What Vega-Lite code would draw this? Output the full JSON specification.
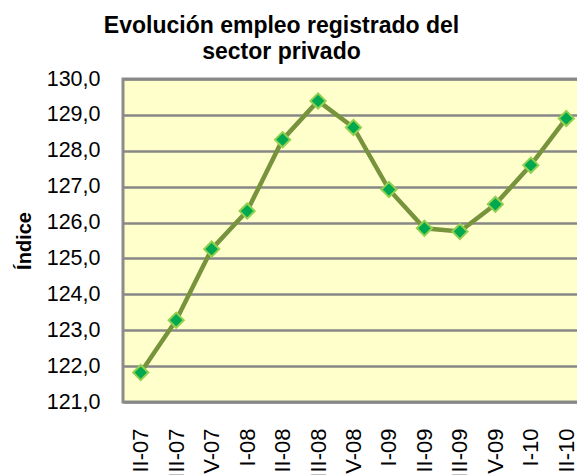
{
  "$schema": "https://vega.github.io/schema/vega-lite/v6.json",
  "width": 461,
  "height": 323,
  "autosize": {"type": "none"},
  "padding": {"left": 123, "top": 79, "right": 0, "bottom": 73},
  "background": "white",
  "title": {
    "text": ["Evolución empleo registrado del", "sector privado"],
    "font": "Liberation Sans",
    "fontSize": 23,
    "fontWeight": "bold",
    "color": "black",
    "lineHeight": 26,
    "anchor": "middle",
    "frame": "group",
    "dx": -72,
    "offset": 4
  },
  "data": {
    "values": [
      {"trimestre": "II-07", "indice": 121.82},
      {"trimestre": "III-07", "indice": 123.28},
      {"trimestre": "IV-07", "indice": 125.26},
      {"trimestre": "I-08", "indice": 126.32},
      {"trimestre": "II-08", "indice": 128.31},
      {"trimestre": "III-08", "indice": 129.39},
      {"trimestre": "IV-08", "indice": 128.65},
      {"trimestre": "I-09", "indice": 126.92},
      {"trimestre": "II-09", "indice": 125.84},
      {"trimestre": "III-09", "indice": 125.75},
      {"trimestre": "IV-09", "indice": 126.51},
      {"trimestre": "I-10", "indice": 127.6},
      {"trimestre": "II-10", "indice": 128.9}
    ]
  },
  "encoding": {
    "x": {
      "field": "trimestre",
      "type": "ordinal",
      "sort": null,
      "scale": {"type": "point", "padding": 0.5},
      "axis": {
        "title": null,
        "labelAngle": -90,
        "labelAlign": "right",
        "labelBaseline": "middle",
        "labelFont": "Liberation Sans",
        "labelFontSize": 22,
        "labelColor": "black",
        "labelPadding": 26,
        "ticks": false,
        "domain": false,
        "grid": false
      }
    },
    "y": {
      "field": "indice",
      "type": "quantitative",
      "scale": {"domain": [121, 130], "nice": false, "zero": false},
      "axis": {
        "title": "Índice",
        "titleFont": "Liberation Sans",
        "titleFontSize": 20,
        "titleFontWeight": "bold",
        "titleColor": "black",
        "titlePadding": 12,
        "values": [121, 122, 123, 124, 125, 126, 127, 128, 129, 130],
        "labelExpr": "replace(format(datum.value, '.1f'), '.', ',')",
        "labelFont": "Liberation Sans",
        "labelFontSize": 21.5,
        "labelColor": "black",
        "labelPadding": 23,
        "ticks": false,
        "domain": false,
        "grid": true,
        "gridColor": "#878787",
        "gridWidth": 2.5
      }
    }
  },
  "layer": [
    {
      "mark": {"type": "line", "color": "#77933C", "strokeWidth": 4.5, "interpolate": "linear"}
    },
    {
      "mark": {"type": "point", "shape": "diamond", "filled": true, "fill": "#00A84F", "stroke": "#92D050", "strokeWidth": 2, "size": 230, "opacity": 1}
    }
  ],
  "config": {
    "view": {"fill": "#FFFFCC", "stroke": "#8C8C8C", "strokeWidth": 3}
  }
}
